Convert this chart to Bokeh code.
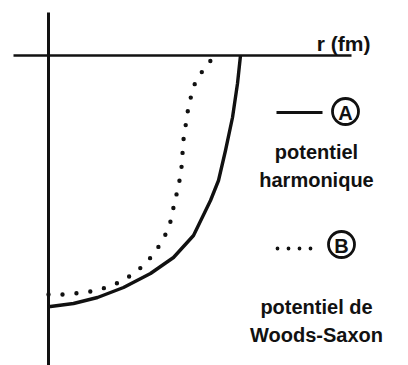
from bokeh.plotting import figure
from bokeh.models import Range1d, Label
from bokeh.core.properties import value
from bokeh.embed import file_html
from bokeh.resources import INLINE

# Radial distance (fm) and potential depth (MeV) for the two nuclear potentials
r_harmonic = [0.0, 0.08, 1.0, 1.96, 3.0, 4.08, 5.0, 5.8, 6.48, 6.8, 7.08, 7.36, 7.56, 7.68]
v_harmonic = [-50.2, -50.2, -49.6, -48.4, -46.4, -43.6, -40.4, -36.0, -29.0, -25.0, -19.0, -12.4, -5.6, 0.0]

r_woods_saxon = [0.0, 0.56, 1.0, 1.52, 2.0, 2.48, 2.96, 3.48, 3.96, 4.36, 4.68, 4.88, 5.0,
                 5.12, 5.24, 5.32, 5.36, 5.4, 5.48, 5.56, 5.68, 5.84, 6.12, 6.52, 6.64]
v_woods_saxon = [-47.8, -47.8, -47.6, -47.4, -46.8, -46.2, -45.0, -43.4, -41.2, -38.6, -35.8, -33.2, -30.4,
                 -27.8, -25.0, -22.4, -19.6, -16.8, -14.2, -11.4, -8.6, -5.8, -3.4, -0.8, 0.0]

axis_label = "r (fm)"
legend_a = ["potentiel", "harmonique"]
legend_b = ["potentiel de", "Woods-Saxon"]

W, H = 408, 365
PX_PER_FM, PX_PER_MEV = 25.0, 5.0
X0, Y0 = 48.0, 55.0  # canvas position of the origin


def to_r(px):
    return (px - X0) / PX_PER_FM


def to_v(py):
    return -(py - Y0) / PX_PER_MEV


p = figure(width=W, height=H, output_backend="svg", toolbar_location=None,
           x_range=Range1d(to_r(0), to_r(W)), y_range=Range1d(to_v(H), to_v(0)),
           x_axis_location=None, y_axis_location=None, min_border=0)
p.grid.visible = False
p.outline_line_color = None
p.background_fill_color = "white"
p.border_fill_color = "white"

FONT = "Liberation Sans"
INK = "#111111"

# hand-drawn style axes
p.line([0, 0], [to_v(12), to_v(H + 5)], line_color=INK, line_width=3)
p.line([to_r(13), to_r(351)], [0, 0], line_color=INK, line_width=2.6)

# potentials
p.line(r_harmonic, v_harmonic, line_color=INK, line_width=3.4, line_join="round")
p.line(r_woods_saxon, v_woods_saxon, line_color=INK, line_width=4.4,
       line_dash="0 14", line_cap="round", line_join="round")

# axis title
p.add_layout(Label(x=to_r(370), y=to_v(43), text=axis_label, text_align="right",
                   text_baseline="alphabetic", text_font=FONT, text_font_style="bold",
                   text_font_size="21px", text_color=INK))

# legend samples
p.line([to_r(276), to_r(322)], [to_v(112), to_v(112)], line_color=INK, line_width=2.8)
p.line([to_r(277), to_r(320)], [to_v(248), to_v(248)], line_color=INK, line_width=3.8,
       line_dash="0 11", line_cap="round")

p.scatter([to_r(345), to_r(341)], [to_v(111), to_v(244)], marker="circle", size=26,
          fill_color="white", line_color=INK, line_width=2.8)
p.text([to_r(345), to_r(341)], [to_v(112), to_v(245)], text=["A", "B"],
       text_align="center", text_baseline="middle", text_font=value(FONT),
       text_font_style="bold", text_font_size="20px", text_color=INK)

for txt, y in zip(legend_a + legend_b, [151, 179, 306, 334]):
    p.add_layout(Label(x=to_r(316), y=to_v(y), text=txt, text_align="center",
                       text_baseline="middle", text_font=FONT, text_font_style="bold",
                       text_font_size="20px", text_color=INK))

open("out.html", "w").write(file_html(p, INLINE))
